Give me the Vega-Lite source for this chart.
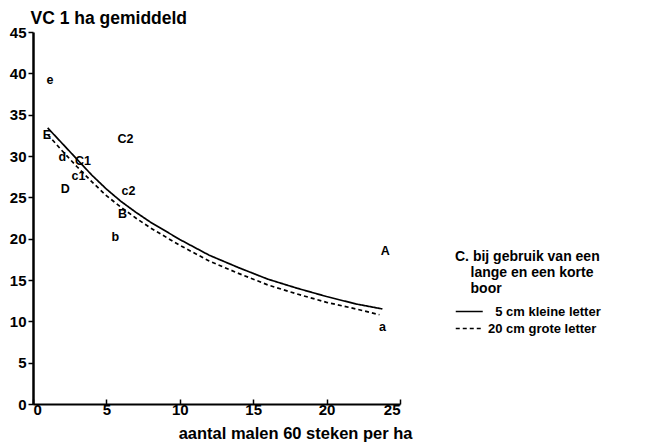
{
  "$schema": "https://vega.github.io/schema/vega-lite/v6.json",
  "width": 367,
  "height": 372,
  "autosize": "none",
  "padding": {"left": 33, "top": 32, "right": 267, "bottom": 42},
  "background": "white",
  "config": {
    "view": {"stroke": null},
    "font": "Liberation Sans",
    "axis": {
      "grid": false,
      "domainColor": "black",
      "tickColor": "black",
      "labelColor": "black",
      "titleColor": "black",
      "labelFont": "Liberation Sans",
      "labelFontSize": 15,
      "labelFontWeight": "bold",
      "titleFont": "Liberation Sans",
      "titleFontWeight": "bold"
    },
    "legend": {
      "labelFont": "Liberation Sans",
      "titleFont": "Liberation Sans"
    }
  },
  "datasets": {
    "curves": [
      {"x": 1, "y": 33.4, "series": "5 cm kleine letter"},
      {"x": 2, "y": 31.5, "series": "5 cm kleine letter"},
      {"x": 3, "y": 29.6, "series": "5 cm kleine letter"},
      {"x": 4, "y": 27.7, "series": "5 cm kleine letter"},
      {"x": 5, "y": 26.0, "series": "5 cm kleine letter"},
      {"x": 6, "y": 24.5, "series": "5 cm kleine letter"},
      {"x": 7, "y": 23.2, "series": "5 cm kleine letter"},
      {"x": 8, "y": 22.0, "series": "5 cm kleine letter"},
      {"x": 10, "y": 19.9, "series": "5 cm kleine letter"},
      {"x": 12, "y": 18.0, "series": "5 cm kleine letter"},
      {"x": 14, "y": 16.5, "series": "5 cm kleine letter"},
      {"x": 16, "y": 15.1, "series": "5 cm kleine letter"},
      {"x": 18, "y": 14.0, "series": "5 cm kleine letter"},
      {"x": 20, "y": 13.0, "series": "5 cm kleine letter"},
      {"x": 22, "y": 12.1, "series": "5 cm kleine letter"},
      {"x": 23.8, "y": 11.5, "series": "5 cm kleine letter"},
      {"x": 1, "y": 32.6, "series": "20 cm grote letter"},
      {"x": 2, "y": 30.6, "series": "20 cm grote letter"},
      {"x": 3, "y": 28.7, "series": "20 cm grote letter"},
      {"x": 4, "y": 26.9, "series": "20 cm grote letter"},
      {"x": 5, "y": 25.2, "series": "20 cm grote letter"},
      {"x": 6, "y": 23.8, "series": "20 cm grote letter"},
      {"x": 7, "y": 22.5, "series": "20 cm grote letter"},
      {"x": 8, "y": 21.3, "series": "20 cm grote letter"},
      {"x": 10, "y": 19.2, "series": "20 cm grote letter"},
      {"x": 12, "y": 17.3, "series": "20 cm grote letter"},
      {"x": 14, "y": 15.8, "series": "20 cm grote letter"},
      {"x": 16, "y": 14.4, "series": "20 cm grote letter"},
      {"x": 18, "y": 13.3, "series": "20 cm grote letter"},
      {"x": 20, "y": 12.3, "series": "20 cm grote letter"},
      {"x": 22, "y": 11.5, "series": "20 cm grote letter"},
      {"x": 23.6, "y": 10.8, "series": "20 cm grote letter"}
    ],
    "points": [
      {"x": 1.16, "y": 39.2, "label": "e"},
      {"x": 6.3, "y": 32.0, "label": "C2"},
      {"x": 0.95, "y": 32.6, "label": "E"},
      {"x": 2.0, "y": 29.9, "label": "d"},
      {"x": 3.4, "y": 29.4, "label": "C1"},
      {"x": 3.1, "y": 27.6, "label": "c1"},
      {"x": 2.2, "y": 26.0, "label": "D"},
      {"x": 6.5, "y": 25.8, "label": "c2"},
      {"x": 6.1, "y": 23.0, "label": "B"},
      {"x": 5.6, "y": 20.2, "label": "b"},
      {"x": 24.0, "y": 18.5, "label": "A"},
      {"x": 23.8, "y": 9.3, "label": "a"}
    ]
  },
  "layer": [
    {
      "data": {"name": "curves"},
      "mark": {"type": "line", "strokeWidth": 1.7, "color": "black"},
      "encoding": {
        "x": {
          "field": "x",
          "type": "quantitative",
          "scale": {"domain": [0, 25], "nice": false},
          "axis": {
            "values": [0, 5, 10, 15, 20, 25],
            "domainWidth": 2,
            "tickSize": -5,
            "tickWidth": 1.5,
            "labelPadding": 3,
            "labelBaseline": "top",
            "title": "aantal malen 60 steken per ha",
            "titleFontSize": 16.5,
            "titleAnchor": "end",
            "titleAlign": "right",
            "titleBaseline": "alphabetic",
            "titleX": 379,
            "titleY": 34
          }
        },
        "y": {
          "field": "y",
          "type": "quantitative",
          "scale": {"domain": [0, 45], "nice": false},
          "axis": {
            "values": [0, 5, 10, 15, 20, 25, 30, 35, 40, 45],
            "domainWidth": 2.5,
            "tickSize": 5,
            "tickWidth": 1.5,
            "labelPadding": 2,
            "title": "VC 1 ha gemiddeld",
            "titleFontSize": 17.5,
            "titleAngle": 0,
            "titleAlign": "left",
            "titleBaseline": "alphabetic",
            "titleX": -3,
            "titleY": -9
          }
        },
        "strokeDash": {
          "field": "series",
          "type": "nominal",
          "scale": {
            "domain": ["5 cm kleine letter", "20 cm grote letter"],
            "range": [[1, 0], [4, 3]]
          },
          "legend": {
            "orient": "none",
            "legendX": 422,
            "legendY": 218,
            "title": ["C. bij gebruik van een", "\u200b\u00a0\u00a0\u00a0\u00a0lange en een korte", "\u200b\u00a0\u00a0\u00a0\u00a0boor"],
            "titleFontSize": 14,
            "titleFontWeight": "bold",
            "titleLineHeight": 16,
            "titleColor": "black",
            "titlePadding": 8,
            "labelFontSize": 13,
            "labelFontWeight": "bold",
            "labelColor": "black",
            "labelOffset": 18,
            "symbolType": "M-1,0H3",
            "symbolSize": 182,
            "symbolStrokeWidth": 1.5,
            "symbolStrokeColor": "black",
            "rowPadding": 2,
            "labelExpr": "datum.label == '5 cm kleine letter' ? '\u200b\u00a0\u00a05 cm kleine letter' : datum.label"
          }
        }
      }
    },
    {
      "data": {"name": "points"},
      "mark": {"type": "text", "fontSize": 12.5, "fontWeight": "bold", "color": "black", "align": "center", "baseline": "middle"},
      "encoding": {
        "x": {"field": "x", "type": "quantitative"},
        "y": {"field": "y", "type": "quantitative"},
        "text": {"field": "label"}
      }
    }
  ]
}
